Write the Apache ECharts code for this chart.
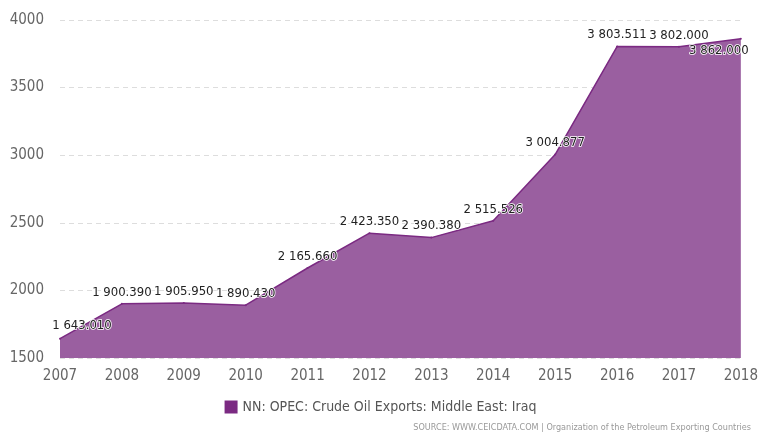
<!DOCTYPE html>
<html>
<head>
<meta charset="utf-8">
<script src="https://cdn.jsdelivr.net/npm/echarts@6/dist/echarts.min.js"></script>
<style>
  html, body { margin: 0; padding: 0; background: #fff; }
  #chart { width: 761px; height: 435px; }
</style>
</head>
<body>
<div id="chart"></div>
<script>
const years = ["2007", "2008", "2009", "2010", "2011", "2012", "2013", "2014", "2015", "2016", "2017", "2018"];
const exportsIraq = [1643.01, 1900.39, 1905.95, 1890.43, 2165.66, 2423.35, 2390.38, 2515.526, 3004.877, 3803.511, 3802.0, 3862.0];
const yTicks = [1500, 2000, 2500, 3000, 3500, 4000];
const seriesName = "NN: OPEC: Crude Oil Exports: Middle East: Iraq";
const sourceText = "SOURCE: WWW.CEICDATA.COM | Organization of the Petroleum Exporting Countries";

const font = "'Liberation Sans Narrow', 'DejaVu Sans Condensed', sans-serif";

// 1 643.010 style
function fmt(v) {
  const parts = v.toFixed(3).split(".");
  return parts[0].replace(/\B(?=(\d{3})+(?!\d))/g, " ") + "." + parts[1];
}

const chart = echarts.init(document.getElementById("chart"));

// first and last labels are nudged inside the plot like the original
const points = exportsIraq.map((v, i) => {
  const item = { value: v };
  if (i === 0) item.label = { position: [23, -6], align: "center", verticalAlign: "bottom" };
  if (i === exportsIraq.length - 1) item.label = { position: [-21, 6], align: "center", verticalAlign: "top" };
  return item;
});

const option = {
  animation: false,
  grid: { left: 60, right: 17, top: 20, bottom: 77 },
  legend: {
    bottom: 16,
    left: "center",
    itemWidth: 13,
    itemHeight: 13,
    icon: "rect",
    textStyle: { fontFamily: font, fontSize: 14, color: "#555" },
    data: [{ name: seriesName, itemStyle: { color: "#7b2a82", opacity: 1 } }]
  },
  graphic: [{
    type: "text",
    right: 10,
    bottom: 3,
    style: { text: sourceText, fontFamily: font, fontSize: 9, fill: "#999" }
  }],
  xAxis: {
    type: "category",
    data: years,
    boundaryGap: false,
    axisLine: { show: false },
    axisTick: { show: false },
    axisLabel: { fontFamily: font, fontSize: 15, color: "#666", margin: 11 }
  },
  yAxis: {
    type: "value",
    min: yTicks[0],
    max: yTicks[yTicks.length - 1],
    interval: 500,
    axisLine: { show: false },
    axisTick: { show: false },
    axisLabel: { fontFamily: font, fontSize: 15, color: "#666", margin: 16, formatter: (v) => String(v) },
    splitLine: { lineStyle: { color: "#ddd", type: [5, 4] } }
  },
  series: [{
    name: seriesName,
    type: "line",
    data: points,
    symbol: "circle",
    symbolSize: 2,
    showSymbol: true,
    lineStyle: { color: "#7b2a82", width: 1.5 },
    areaStyle: { color: "#9a5fa0", opacity: 1 },
    itemStyle: { color: "#7b2a82" },
    label: {
      show: true,
      position: "top",
      distance: 4,
      fontFamily: font,
      fontSize: 13,
      color: "#222",
      textBorderColor: "#fff",
      textBorderWidth: 1.5,
      formatter: (p) => fmt(p.value)
    },
    labelLayout: { hideOverlap: false }
  }]
};

chart.setOption(option);
</script>
</body>
</html>
